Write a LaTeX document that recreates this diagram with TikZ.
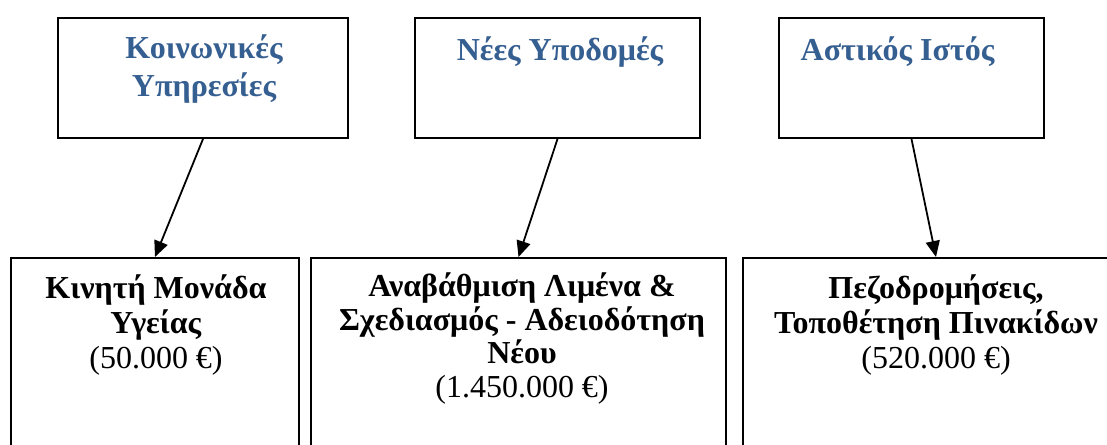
\documentclass[tikz,border=0pt]{standalone}
\usepackage{fontspec}
\setmainfont{Liberation Serif}
\usetikzlibrary{arrows.meta}
\definecolor{titleblue}{HTML}{365F91}
\begin{document}
\begin{tikzpicture}[x=0.5pt,y=-0.5pt,
  box/.style={draw=black, line width=1pt, rectangle, inner sep=0pt},
  title/.style={font=\fontsize{16}{19}\selectfont\bfseries, text=titleblue, align=center, anchor=base, inner sep=0pt},
  body/.style={font=\fontsize{16}{17.5}\selectfont, align=center, anchor=base, inner sep=0pt},
  arr/.style={-{Triangle[length=8pt,width=7pt]}, line width=0.9pt}]
\useasboundingbox (0,0) rectangle (1107,444);
\clip (0,0) rectangle (1107,444);
% top boxes
\node[box, minimum width=145pt, minimum height=60pt] (b1) at (203,78) {};
\node[box, minimum width=142.5pt, minimum height=60pt] (b2) at (557.5,78) {};
\node[box, minimum width=132.5pt, minimum height=60pt] (b3) at (911.5,78) {};
% bottom boxes
\node[box, minimum width=144pt, minimum height=101pt] (b4) at (155,359) {};
\node[box, minimum width=207.5pt, minimum height=101pt] (b5) at (518.5,359) {};
\node[box, minimum width=193pt, minimum height=101pt] (b6) at (936,359) {};
% titles (anchored at the baseline of the last line)
\node[title] (t1) at (204,97) {Κοινωνικές\\Υπηρεσίες};
\node[title] (t2) at (560,61) {Νέες Υποδομές};
\node[title] (t3) at (897.5,61) {Αστικός Ιστός};
% bodies (anchored at the baseline of the last line)
\node[body] (t4) at (156,368) {\textbf{Κινητή Μονάδα}\\\textbf{Υγείας}\\(50.000 €)};
\node[body, font=\fontsize{16}{16.7}\selectfont] (t5) at (522,397) {\textbf{Αναβάθμιση Λιμένα \&}\\\textbf{Σχεδιασμός - Αδειοδότηση}\\\textbf{Νέου}\\(1.450.000 €)};
\node[body] (t6) at (936,368) {\textbf{Πεζοδρομήσεις,}\\\textbf{Τοποθέτηση Πινακίδων}\\(520.000 €)};
% arrows
\draw[arr] (b1.south) -- (b4.north);
\draw[arr] (b2.south) -- (b5.north);
\draw[arr] (b3.south) -- (b6.north);
\end{tikzpicture}
\end{document}
